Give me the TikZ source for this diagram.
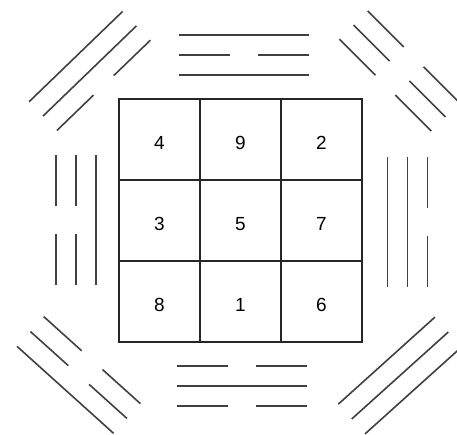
\documentclass[tikz,border=0pt]{standalone}
\usepackage{fontspec}
\setmainfont{Liberation Sans}
\usetikzlibrary{positioning}

% one line of a trigram: #1 offset, #2 = 1 solid / 0 broken
\newcommand{\yao}[2]{%
  \ifnum#2=1
    \draw[yaoline] (-65,#1) -- (65,#1);
  \else
    \draw[yaoline] (-65,#1) -- (-14,#1) (14,#1) -- (65,#1);
  \fi}
% trigram: centre x, centre y, angle, outer, middle, inner
\newcommand{\trigram}[6]{%
  \begin{scope}[shift={(#1,#2)}, rotate=#3]
    \yao{-20}{#4}
    \yao{0}{#5}
    \yao{20}{#6}
  \end{scope}}

\begin{document}
\begin{tikzpicture}[
    x=1pt, y=-1pt,
    node distance=0pt,
    cell/.style={rectangle, draw=black!85, line width=1.8pt, minimum size=81pt, inner sep=0pt, outer sep=0pt, text height=19.6pt, text depth=0pt, font=\fontsize{19}{21}\selectfont},
    yaoline/.style={draw=black!75, line width=1.6pt}
]
\useasboundingbox (0,0) rectangle (457,434);

% magic square
\node[cell] (c4) at (159.5,139.5) {4};
\node[cell, right=of c4] (c9) {9};
\node[cell, right=of c9] (c2) {2};
\node[cell, below=of c4] (c3) {3};
\node[cell, right=of c3] (c5) {5};
\node[cell, right=of c5] (c7) {7};
\node[cell, below=of c3] (c8) {8};
\node[cell, right=of c8] (c1) {1};
\node[cell, right=of c1] (c6) {6};

% trigrams
\trigram{244}{55}{0}{1}{0}{1}
\trigram{241.5}{385.7}{180}{0}{1}{0}
\trigram{75.7}{220}{90}{0}{0}{1}
\trigram{407.3}{222}{-90}{0}{1}{1}
\trigram{89.7}{71}{44}{1}{1}{0}
\trigram{399.5}{71}{-45}{0}{0}{0}
\trigram{78.7}{375}{138}{1}{0}{0}
\trigram{400}{375.5}{-138}{1}{1}{1}
\end{tikzpicture}
\end{document}
